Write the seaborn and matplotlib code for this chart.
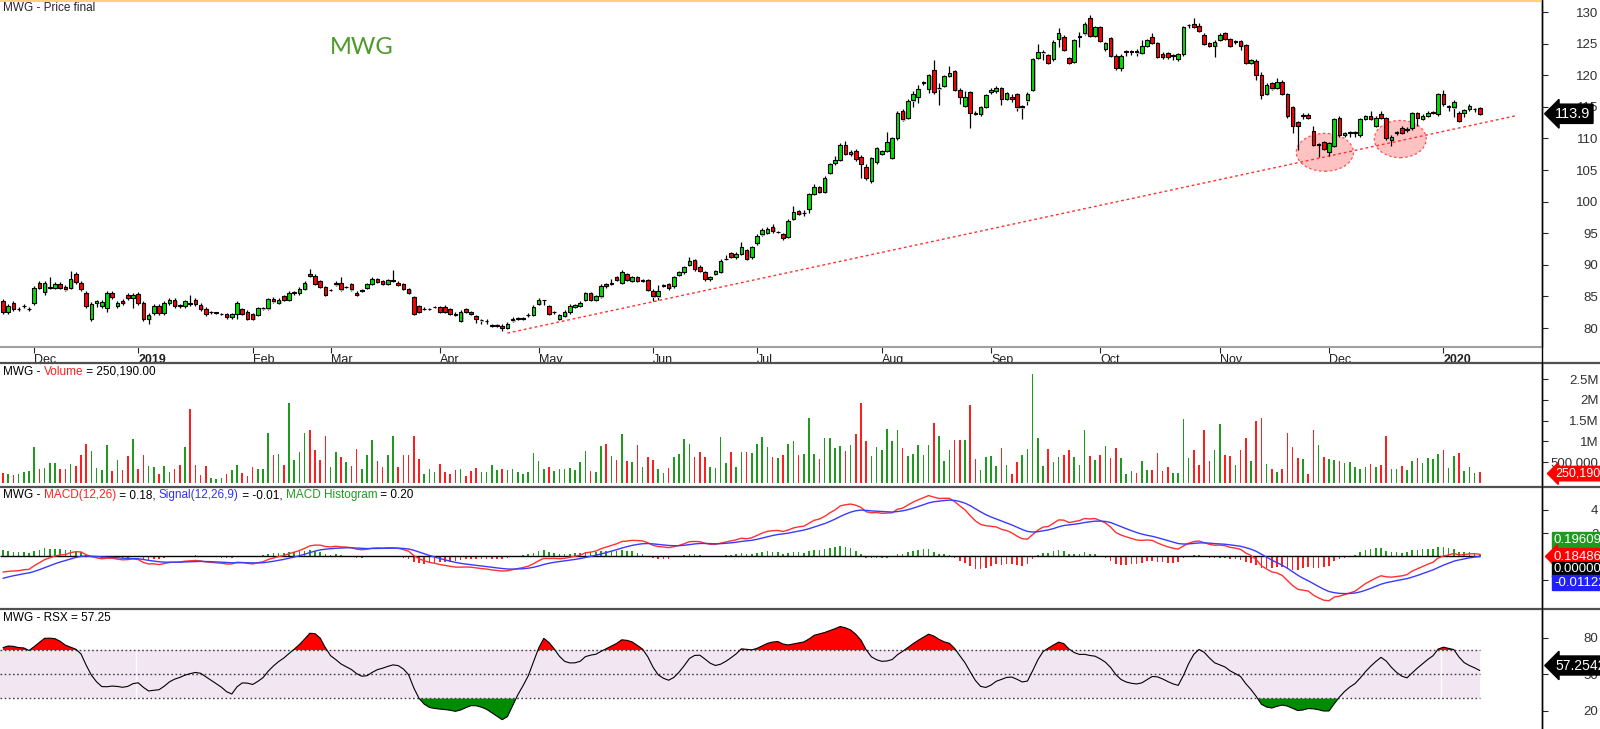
import numpy as np
import pandas as pd
import seaborn as sns
import matplotlib.pyplot as plt
import matplotlib.transforms as mtransforms
from matplotlib.lines import Line2D
from matplotlib.patches import Ellipse

W, H = 1600, 729

### data (one value per trading day) ###

opens = [
    84.3, 82.6, 84.0, 83.0, 83.5, 83.0, 84.0, 87.1, 85.7, 86.4,
    86.4, 87.0, 86.5, 86.4, 88.5, 87.2, 85.6, 81.4, 83.9, 83.5,
    83.2, 85.6, 83.5, 84.3, 85.3, 84.8, 85.4, 84.0, 81.4, 82.4,
    83.5, 82.4, 84.0, 84.4, 83.6, 83.5, 84.0, 84.4, 83.6, 83.0,
    82.5, 82.4, 82.2, 82.2, 81.7, 82.2, 83.0, 82.6, 82.2, 82.1,
    83.1, 83.1, 84.6, 84.0, 85.0, 84.5, 85.6, 85.5, 86.2, 88.5,
    88.3, 87.4, 86.5, 86.0, 86.9, 87.2, 86.5, 87.0, 85.6, 85.9,
    86.4, 87.0, 87.7, 87.4, 87.0, 87.5, 87.2, 87.0, 86.2, 84.9,
    83.5, 83.0, 83.0, 83.3, 83.3, 83.4, 83.0, 82.3, 81.1, 83.0,
    82.5, 81.9, 81.2, 81.1, 80.4, 80.4, 80.4, 80.0, 81.2, 81.5,
    81.5, 82.0, 82.0, 83.8, 84.4, 83.5, 82.5, 81.4, 81.9, 82.6,
    83.4, 83.5, 84.4, 85.5, 84.4, 85.0, 86.9, 87.0, 88.0, 87.1,
    88.5, 87.5, 88.1, 87.5, 87.6, 85.9, 85.0, 86.7, 86.9, 86.6,
    88.4, 88.8, 90.0, 90.8, 89.7, 88.9, 87.7, 88.6, 88.9, 90.9,
    91.8, 91.3, 91.7, 92.3, 91.2, 93.4, 94.8, 95.0, 96.0, 95.2,
    94.9, 94.4, 97.3, 98.5, 98.2, 98.8, 101.2, 102.3, 101.6, 104.5,
    106.1, 106.6, 109.0, 107.5, 108.0, 107.1, 105.4, 103.2, 106.3, 107.5,
    108.0, 106.9, 110.0, 114.4, 113.3, 116.0, 116.5, 118.8, 117.8, 120.8,
    117.9, 118.3, 119.9, 120.6, 117.7, 115.2, 117.3, 114.1, 113.8, 115.0,
    117.4, 117.5, 118.0, 116.3, 116.6, 117.0, 114.9, 116.0, 117.7, 122.7,
    123.6, 123.2, 122.5, 125.8, 126.1, 122.7, 122.1, 126.1, 126.6, 129.0,
    126.2, 127.6, 124.1, 125.9, 123.1, 121.1, 123.7, 123.7, 123.9, 123.5,
    124.7, 126.1, 125.1, 123.4, 123.5, 123.1, 122.5, 123.3, 127.9, 128.1,
    127.8, 126.4, 125.1, 124.7, 125.6, 126.7, 125.7, 125.3, 125.4, 124.8,
    122.0, 122.3, 120.0, 117.0, 118.7, 118.0, 119.0, 117.0, 115.0, 112.6,
    113.6, 113.7, 111.2, 109.0, 109.4, 107.9, 108.8, 113.3, 110.5, 110.9,
    110.9, 110.5, 113.1, 113.6, 112.0, 113.8, 113.2, 109.8, 110.9, 111.7,
    111.4, 111.6, 114.0, 113.1, 113.6, 114.1, 113.8, 117.0, 115.0, 114.9,
    114.1, 114.0, 114.6, 114.6, 114.8,
]

closes = [
    82.6, 83.5, 83.0, 83.0, 83.5, 83.0, 86.4, 86.4, 87.2, 86.4,
    87.0, 86.4, 86.1, 87.7, 87.3, 86.2, 83.5, 83.8, 84.2, 84.1,
    85.6, 84.9, 84.0, 84.0, 84.8, 85.3, 84.0, 81.4, 82.1, 83.5,
    82.4, 84.0, 84.4, 83.5, 83.5, 84.2, 83.8, 83.8, 83.0, 82.2,
    82.5, 82.4, 82.2, 81.7, 82.2, 84.0, 82.2, 81.4, 81.4, 83.1,
    83.1, 84.6, 84.2, 84.5, 84.5, 85.6, 85.6, 86.2, 87.2, 88.2,
    87.0, 86.5, 85.2, 86.0, 87.2, 86.1, 86.5, 86.1, 85.2, 85.9,
    87.0, 87.8, 87.3, 87.0, 87.6, 87.5, 86.8, 86.2, 85.6, 82.3,
    82.6, 83.0, 83.0, 83.3, 82.6, 82.6, 82.3, 82.1, 82.6, 82.6,
    82.2, 81.4, 81.2, 81.1, 80.4, 80.4, 80.0, 80.7, 81.5, 81.5,
    81.5, 82.0, 83.4, 84.4, 84.4, 82.3, 82.5, 82.0, 82.6, 83.5,
    83.6, 84.0, 85.5, 84.4, 85.0, 86.7, 86.6, 87.0, 87.6, 88.8,
    87.6, 88.1, 87.5, 87.5, 86.0, 85.0, 85.9, 86.7, 86.3, 88.1,
    88.8, 89.6, 90.6, 89.3, 89.0, 87.7, 88.1, 89.0, 90.6, 90.9,
    91.3, 91.7, 92.8, 91.0, 92.8, 94.6, 95.5, 95.6, 95.3, 95.2,
    94.2, 97.0, 98.3, 98.1, 98.2, 101.2, 102.3, 101.6, 103.8, 105.9,
    106.6, 109.0, 107.5, 107.9, 106.7, 106.0, 103.7, 106.9, 108.5, 108.0,
    109.5, 110.0, 114.1, 113.0, 115.9, 117.0, 117.8, 118.8, 120.0, 117.3,
    117.9, 119.9, 120.4, 117.7, 116.5, 116.5, 114.1, 113.9, 115.0, 116.9,
    117.7, 118.0, 116.3, 117.2, 116.2, 114.9, 115.1, 117.0, 122.5, 123.6,
    123.6, 122.0, 125.3, 126.6, 124.0, 122.0, 125.6, 126.1, 128.1, 126.2,
    127.6, 125.4, 125.1, 123.1, 121.1, 123.1, 123.7, 123.7, 123.6, 124.7,
    125.6, 125.1, 122.9, 122.9, 122.9, 123.1, 123.3, 127.6, 127.9, 127.7,
    127.0, 125.0, 124.7, 125.3, 126.4, 125.7, 124.6, 125.3, 124.7, 121.9,
    122.4, 120.0, 116.9, 118.5, 117.9, 119.0, 117.1, 113.5, 112.0, 112.0,
    113.6, 113.2, 109.0, 109.0, 108.4, 109.2, 113.0, 110.5, 110.8, 110.9,
    110.9, 113.1, 113.5, 113.1, 113.3, 113.3, 110.0, 110.2, 110.9, 110.9,
    111.4, 114.0, 113.2, 113.6, 114.1, 114.1, 117.0, 115.4, 115.0, 115.8,
    112.8, 114.5, 115.1, 114.6, 113.9,
]

highs = [
    84.6, 83.8, 84.3, 83.4, 83.8, 83.3, 86.7, 87.4, 87.5, 88.0,
    87.3, 87.3, 86.8, 89.0, 88.8, 87.5, 85.9, 84.1, 84.5, 84.4,
    85.9, 85.9, 84.3, 84.6, 85.6, 85.6, 85.7, 84.3, 82.4, 83.8,
    83.8, 84.3, 84.7, 84.7, 83.8, 84.5, 85.2, 84.7, 83.9, 83.3,
    82.7, 82.6, 82.4, 82.4, 82.4, 84.3, 83.2, 82.8, 82.4, 83.3,
    83.4, 84.8, 84.9, 84.7, 85.2, 85.8, 85.9, 86.5, 87.5, 89.4,
    88.5, 87.6, 86.7, 86.2, 87.4, 88.1, 86.7, 87.2, 85.8, 86.1,
    87.2, 88.0, 87.9, 87.6, 87.8, 89.2, 87.4, 87.2, 86.4, 85.1,
    83.7, 83.3, 83.2, 83.5, 83.5, 83.6, 83.2, 82.5, 82.8, 83.2,
    82.7, 82.1, 81.5, 81.5, 80.6, 80.6, 80.6, 80.9, 81.7, 81.8,
    81.7, 82.4, 83.6, 84.7, 84.5, 83.7, 82.7, 82.2, 82.9, 83.8,
    83.8, 84.3, 85.7, 85.7, 85.2, 86.9, 87.1, 87.7, 88.2, 89.2,
    88.7, 88.3, 88.3, 87.7, 87.8, 86.1, 86.8, 86.9, 87.1, 88.3,
    89.0, 89.8, 91.2, 91.0, 89.9, 89.1, 88.3, 89.2, 91.0, 91.6,
    92.0, 92.0, 93.6, 92.5, 93.0, 94.8, 95.8, 96.0, 96.4, 95.4,
    95.1, 97.2, 99.3, 98.7, 98.6, 101.4, 102.8, 102.5, 104.0, 106.1,
    107.2, 109.2, 109.6, 108.2, 108.3, 107.3, 106.0, 107.1, 108.7, 108.2,
    111.0, 110.2, 114.3, 114.6, 116.3, 117.5, 118.5, 119.1, 120.2, 122.4,
    118.8, 120.1, 121.4, 120.8, 117.9, 117.5, 117.5, 114.3, 115.2, 117.1,
    117.9, 118.3, 118.2, 117.4, 117.0, 117.2, 115.3, 117.3, 122.7, 125.0,
    124.0, 123.4, 125.6, 127.5, 126.3, 122.9, 125.8, 126.8, 128.4, 129.6,
    127.8, 127.8, 125.3, 126.1, 123.3, 123.3, 124.0, 124.0, 124.1, 125.5,
    125.8, 126.6, 125.3, 123.6, 123.7, 123.3, 123.5, 127.8, 128.1, 129.0,
    128.3, 126.6, 125.3, 125.5, 126.6, 126.9, 125.9, 125.6, 125.6, 125.0,
    122.6, 122.5, 120.5, 118.7, 118.9, 119.6, 119.2, 117.2, 115.2, 112.8,
    114.0, 114.0, 112.0, 109.2, 109.6, 109.4, 113.2, 113.5, 111.0, 111.2,
    111.2, 113.3, 113.7, 114.4, 113.5, 114.3, 113.4, 110.6, 111.2, 111.9,
    111.8, 114.2, 114.2, 113.8, 114.3, 114.4, 117.2, 117.7, 115.3, 116.0,
    114.3, 114.7, 115.5, 114.8, 115.0,
]

lows = [
    82.3, 82.3, 82.7, 82.7, 83.2, 82.7, 83.6, 86.1, 85.3, 86.1,
    86.1, 86.1, 85.8, 86.1, 87.0, 85.9, 83.2, 81.1, 83.3, 83.2,
    82.6, 84.6, 83.2, 83.7, 84.5, 83.2, 83.7, 81.1, 80.6, 82.1,
    82.1, 82.1, 83.7, 83.2, 83.2, 83.2, 83.5, 83.5, 82.7, 81.9,
    82.3, 82.2, 82.0, 81.5, 81.5, 81.5, 82.0, 81.2, 81.2, 81.9,
    82.8, 82.9, 84.0, 83.8, 84.3, 84.3, 85.3, 85.2, 86.0, 88.0,
    86.8, 86.3, 85.0, 85.8, 86.7, 85.9, 86.3, 85.9, 85.0, 85.7,
    86.2, 86.8, 87.1, 86.8, 86.8, 87.3, 86.6, 86.0, 85.4, 82.1,
    82.4, 82.8, 82.8, 83.1, 82.4, 82.4, 82.1, 81.9, 80.9, 82.4,
    82.0, 80.8, 80.6, 80.7, 80.2, 80.2, 79.5, 79.8, 81.0, 81.3,
    81.3, 81.8, 81.9, 83.6, 83.7, 82.1, 82.3, 81.2, 81.7, 82.3,
    83.1, 83.3, 84.2, 84.2, 84.2, 84.8, 86.4, 86.8, 87.4, 86.9,
    87.4, 87.3, 87.3, 87.3, 85.8, 84.3, 84.5, 86.5, 86.0, 86.4,
    88.2, 88.6, 89.8, 89.1, 88.8, 87.5, 87.5, 88.4, 88.7, 90.7,
    91.1, 90.9, 91.5, 90.8, 91.0, 93.2, 94.6, 94.8, 95.1, 95.0,
    94.0, 94.2, 97.1, 97.9, 97.7, 98.2, 101.0, 101.4, 101.4, 104.3,
    105.8, 106.4, 107.3, 107.2, 106.5, 103.7, 103.5, 103.0, 106.0, 107.3,
    107.8, 106.7, 109.8, 112.8, 113.1, 114.9, 115.6, 118.5, 117.2, 117.0,
    115.3, 118.1, 119.7, 117.5, 115.4, 115.0, 111.6, 113.7, 113.6, 114.8,
    117.0, 117.2, 115.3, 116.1, 115.8, 114.4, 113.0, 115.3, 117.5, 122.5,
    122.4, 121.8, 122.3, 124.5, 123.8, 121.8, 121.9, 124.5, 126.4, 126.0,
    126.0, 125.2, 123.9, 122.9, 120.9, 120.6, 123.0, 123.2, 123.1, 123.3,
    124.5, 124.9, 122.7, 122.5, 122.5, 122.4, 122.3, 123.1, 127.5, 127.5,
    126.8, 124.8, 124.5, 122.9, 125.4, 125.5, 124.4, 125.0, 124.0, 121.7,
    121.8, 119.2, 116.3, 116.8, 117.6, 117.8, 116.8, 113.3, 110.8, 108.2,
    113.0, 113.0, 108.8, 107.0, 108.2, 107.2, 108.6, 110.3, 110.2, 110.3,
    110.3, 110.3, 112.9, 112.9, 111.8, 113.1, 109.8, 108.8, 110.6, 110.7,
    111.0, 111.4, 112.0, 112.9, 113.4, 113.9, 113.6, 115.2, 114.4, 113.4,
    112.6, 113.4, 114.4, 114.2, 113.7,
]

# volume in millions of shares
volume_m = [
    0.24, 0.22, 0.18, 0.20, 0.26, 0.28, 0.87, 0.32, 0.36, 0.47,
    0.47, 0.34, 0.32, 0.45, 0.40, 0.66, 0.93, 0.77, 0.35, 0.30,
    0.90, 0.29, 0.55, 0.30, 0.65, 1.05, 0.32, 0.68, 0.40, 0.38,
    0.20, 0.40, 0.26, 0.32, 0.42, 0.87, 1.78, 0.42, 0.18, 0.40,
    0.12, 0.10, 0.12, 0.20, 0.30, 0.42, 0.24, 0.15, 0.38, 0.34,
    0.32, 1.20, 0.66, 0.70, 0.42, 1.92, 0.56, 0.75, 1.19, 1.27,
    0.79, 0.55, 1.13, 0.38, 0.75, 0.63, 0.51, 0.40, 0.82, 0.32,
    0.66, 1.04, 0.53, 0.38, 0.68, 1.13, 0.38, 0.66, 0.66, 1.13,
    0.58, 0.20, 0.32, 0.25, 0.44, 0.25, 0.20, 0.30, 0.32, 0.15,
    0.29, 0.36, 0.26, 0.25, 0.42, 0.30, 0.34, 0.30, 0.32, 0.25,
    0.22, 0.25, 0.72, 0.53, 0.34, 0.38, 0.29, 0.32, 0.33, 0.35,
    0.30, 0.51, 0.76, 0.29, 0.26, 0.88, 0.93, 0.64, 0.56, 1.17,
    0.53, 0.50, 0.90, 0.37, 0.62, 0.55, 0.33, 0.24, 0.36, 0.63,
    0.69, 1.05, 0.93, 0.63, 0.75, 0.62, 0.38, 0.36, 1.10, 0.48,
    0.75, 0.38, 0.74, 0.74, 0.73, 0.93, 1.10, 0.86, 0.63, 0.59,
    0.68, 0.94, 1.00, 0.67, 0.69, 1.56, 0.69, 0.57, 1.09, 1.08,
    0.84, 0.88, 0.76, 0.90, 1.18, 1.93, 1.01, 0.64, 0.87, 0.79,
    1.30, 1.00, 1.28, 0.84, 0.65, 0.69, 0.90, 0.68, 0.90, 1.45,
    1.12, 0.52, 0.80, 1.03, 1.03, 1.03, 1.89, 0.57, 0.30, 0.61,
    0.65, 0.41, 0.85, 0.42, 0.22, 0.51, 0.67, 0.82, 2.63, 1.07,
    0.40, 0.81, 0.51, 0.61, 0.67, 0.79, 0.61, 0.42, 1.28, 0.64,
    0.55, 0.67, 0.88, 0.59, 0.85, 0.59, 0.22, 0.28, 0.24, 0.52,
    0.30, 0.30, 0.73, 0.29, 0.38, 0.24, 0.24, 1.55, 0.59, 0.78,
    0.42, 1.28, 0.53, 0.79, 1.42, 0.67, 0.65, 0.42, 0.78, 1.07,
    0.52, 1.48, 1.56, 0.44, 0.32, 0.26, 0.32, 1.21, 0.87, 0.59,
    0.57, 0.22, 1.28, 0.90, 0.61, 0.57, 0.56, 0.52, 0.47, 0.51,
    0.38, 0.34, 0.38, 0.44, 0.38, 0.42, 1.13, 0.34, 0.34, 0.40,
    0.30, 0.53, 0.60, 0.47, 0.60, 0.57, 0.69, 0.79, 0.36, 0.64,
    0.72, 0.29, 0.38, 0.24, 0.25019,
]

month_labels = ["Dec", "2019", "Feb", "Mar", "Apr", "May", "Jun", "Jul",
                "Aug", "Sep", "Oct", "Nov", "Dec", "2020"]
month_start = [6, 26, 48, 63, 84, 103, 125, 145, 169, 190, 211, 234, 255, 277]
year_start = [26, 277]

# hand-drawn annotations on the price pane
trend_idx = [97, 291]
trend_price = [79.2, 113.6]
circle_idx = [254.2, 268.7]
circle_price = [107.8, 109.9]
circle_w = [11.0, 10.0]
circle_h = [6.0, 5.9]

# indicator start values (history before the first bar is not on the chart)
macd_seed = [84.2, 85.5, -2.0]   # ema12, ema26, signal
rsx_seed = [22.0, 50.0]          # mean move, mean abs move (x100)
rsx_len = 12

#################

def ema(vals, span, seed):
    a = 2.0 / (span + 1)
    out, prev = [], seed
    for v in vals:
        prev = prev + a * (v - prev)
        out.append(prev)
    return np.array(out)


def rsx(vals, length, mom0, abs0):
    f18 = 3.0 / (length + 2.0)
    f20 = 1.0 - f18
    f28 = f30 = f38 = f40 = f48 = f50 = mom0
    f58 = f60 = f68 = f70 = f78 = f80 = abs0
    f10 = 100.0 * vals[0]
    out = []
    for v in vals:
        f8 = 100.0 * v
        v8 = f8 - f10
        f10 = f8
        f28 = f20 * f28 + f18 * v8
        f30 = f18 * f28 + f20 * f30
        vc = 1.5 * f28 - 0.5 * f30
        f38 = f20 * f38 + f18 * vc
        f40 = f18 * f38 + f20 * f40
        v10 = 1.5 * f38 - 0.5 * f40
        f48 = f20 * f48 + f18 * v10
        f50 = f18 * f48 + f20 * f50
        v14 = 1.5 * f48 - 0.5 * f50
        f58 = f20 * f58 + f18 * abs(v8)
        f60 = f18 * f58 + f20 * f60
        v18 = 1.5 * f58 - 0.5 * f60
        f68 = f20 * f68 + f18 * v18
        f70 = f18 * f68 + f20 * f70
        v1c = 1.5 * f68 - 0.5 * f70
        f78 = f20 * f78 + f18 * v1c
        f80 = f18 * f78 + f20 * f80
        v20 = 1.5 * f78 - 0.5 * f80
        r = (v14 / v20 + 1.0) * 50.0 if v20 > 0 else 50.0
        out.append(min(max(r, 0.0), 100.0))
    return np.array(out)


def put_parts(fig, x_px, y_px, parts, size=8.5):
    # multi-coloured title, pieces laid end to end
    r = fig.canvas.get_renderer()
    probe = fig.text(0, 0, "|", fontsize=size)
    bar_w = probe.get_window_extent(r).width
    probe.remove()
    done = ""
    for s, col in parts:
        t = fig.text(0, 0, done + "|", fontsize=size)
        off = t.get_window_extent(r).width - bar_w
        t.remove()
        fig.text((x_px + off) / W, 1 - y_px / H, s, color=col, fontsize=size,
                 ha="left", va="center")
        done += s


sns.set_style("white")
plt.rcParams['font.family'] = ['Liberation Sans', 'DejaVu Sans']

df = pd.DataFrame({"open": opens, "high": highs, "low": lows,
                   "close": closes, "vol": volume_m})
df["idx"] = np.arange(len(df))
n = len(df)
up = (df["close"] >= df["open"]).values

e12 = ema(closes, 12, macd_seed[0])
e26 = ema(closes, 26, macd_seed[1])
df["macd"] = e12 - e26
df["signal"] = ema(df["macd"].values, 9, macd_seed[2])
df["hist"] = df["macd"] - df["signal"]
df["rsx"] = rsx(closes, rsx_len, rsx_seed[0], rsx_seed[1])

fig = plt.figure(figsize=(16, 7.29), dpi=100)
fig.patch.set_facecolor("white")

x_right = 1542


def pane(top, bottom):
    a = fig.add_axes([0, 1 - bottom / H, x_right / W, (bottom - top) / H])
    a.set_xlim(-0.58, 295.96)
    for s in ["top", "left", "bottom"]:
        a.spines[s].set_visible(False)
    a.spines["right"].set_color("black")
    a.spines["right"].set_linewidth(1)
    a.yaxis.tick_right()
    a.tick_params(axis="y", direction="out", length=4, width=0.8,
                  pad=(1597 - x_right - 4) * 0.72, labelsize=9.5,
                  labelcolor="#303030")
    return a


ax_p = pane(0, 347)
ax_v = pane(364, 486)
ax_m = pane(488, 608)
ax_r = pane(610, 729)

# ---- price pane ----
ax_p.set_ylim(77.0, 131.9)
ax_p.spines["bottom"].set_visible(True)
ax_p.spines["bottom"].set_color("#A0A0A0")
ax_p.spines["bottom"].set_linewidth(1.5)

for i in range(2):
    ax_p.add_patch(Ellipse((circle_idx[i], circle_price[i]), circle_w[i], circle_h[i],
                           facecolor="#FFC2C2", edgecolor="#FF5050",
                           linestyle=(0, (2, 2)), linewidth=0.9, zorder=1))
ax_p.plot(trend_idx, trend_price, color="#FF3030", linestyle=(0, (2, 2)),
          linewidth=1, zorder=2)

body_lo = np.minimum(df["open"], df["close"]).values
body_h = np.maximum(np.abs(df["close"] - df["open"]).values, 0.06)
ax_p.vlines(df["idx"], np.minimum(df["low"], body_lo),
            np.maximum(df["high"], body_lo + body_h), color="black", lw=0.9, zorder=3)
ax_p.bar(df["idx"] + 0.2, body_h, bottom=body_lo - 0.17, width=0.72,
         color="#B8B8B8", linewidth=0, zorder=3.5)
ax_p.bar(df["idx"], body_h, bottom=body_lo, width=0.72,
         color=np.where(up, "#00E000", "#FF0000"), edgecolor="black",
         linewidth=0.8, zorder=4)

ax_p.set_yticks(range(80, 131, 5))
ax_p.set_xticks(month_start)
ax_p.set_xticklabels(month_labels)
ax_p.tick_params(axis="x", direction="out", length=4, width=0.8, pad=1,
                 labelsize=9, labelcolor="#202020", bottom=True)
for lbl in ax_p.get_xticklabels():
    lbl.set_horizontalalignment("left")
    if lbl.get_text() in ("2019", "2020"):
        lbl.set_fontweight("bold")

# ---- volume pane ----
ax_v.set_ylim(-0.08, 2.87)
ax_v.bar(df["idx"], df["vol"], width=0.32,
         color=np.where(up, "#1E9A1E", "#FF1E1E"), linewidth=0)
ax_v.set_yticks([0.5, 1, 1.5, 2, 2.5])
ax_v.set_yticklabels(["500,000", "1M", "1.5M", "2M", "2.5M"])
ax_v.set_xticks([])

# ---- MACD pane ----
ax_m.set_ylim(-4.40, 5.85)
ax_m.bar(df["idx"], df["hist"], width=0.32,
         color=np.where(df["hist"] >= 0, "#1E9A1E", "#FF1E1E"), linewidth=0)
ax_m.hlines(0, -0.58, n - 1, color="black", lw=1)
sns.lineplot(data=df, x="idx", y="macd", ax=ax_m, color="#FF3030", lw=1)
sns.lineplot(data=df, x="idx", y="signal", ax=ax_m, color="#3A3AFF", lw=1)
ax_m.set_yticks([-2, 2, 4])
ax_m.set_xticks([])

# ---- RSX pane ----
ax_r.set_ylim(4.8, 103.1)
ax_r.fill_between([-0.58, n - 1], 30, 70, color="#F2E6F2", lw=0)
ax_r.vlines(np.array(year_start) - 0.4, 30, 70, color="white", lw=1)
ax_r.hlines([30, 50, 70], -0.58, n - 1, colors="#404040",
            linestyles=(0, (1.2, 1.8)), lw=1)
rv = df["rsx"].values
ax_r.fill_between(df["idx"], rv, 70, where=rv > 70, interpolate=True,
                  color="#FF0000", lw=0)
ax_r.fill_between(df["idx"], rv, 30, where=rv < 30, interpolate=True,
                  color="#008C00", lw=0)
sns.lineplot(data=df, x="idx", y="rsx", ax=ax_r, color="black", lw=0.8)
ax_r.set_yticks([20, 50, 80])
ax_r.set_xticks([])

for a in [ax_v, ax_m, ax_r]:
    a.set_xlabel("")
    a.set_ylabel("")
for a in [ax_p, ax_v, ax_m, ax_r]:
    for lbl in a.get_yticklabels():
        lbl.set_horizontalalignment("right")

# ---- frame lines ----
fig.add_artist(Line2D([0, x_right / W], [1 - 0.8 / H] * 2, color="#FFD27A", lw=1.5))
for y in [363, 487, 609]:
    fig.add_artist(Line2D([0, 1], [1 - y / H] * 2, color="#505050", lw=1.6))
fig.add_artist(Line2D([x_right / W] * 2, [0, 1], color="black", lw=1))

# ---- titles ----
fig.text(3 / W, 1 - 8 / H, "MWG - Price final", fontsize=8.5, ha="left", va="center")
fig.text(330 / W, 1 - 48 / H, "MWG", fontsize=17, color="#4E9A2A",
         family=["Lato", "DejaVu Sans"], ha="left", va="center")
put_parts(fig, 3, 372, [("MWG - ", "black"), ("Volume", "#FF2020"),
                        (" = 250,190.00", "black")])
put_parts(fig, 3, 495, [("MWG - ", "black"), ("MACD(12,26)", "#FF2020"),
                        (" = 0.18, ", "black"), ("Signal(12,26,9)", "#3030FF"),
                        (" = -0.01, ", "black"), ("MACD Histogram", "#1E9A1E"),
                        (" = 0.20", "black")])
put_parts(fig, 3, 618, [("MWG - RSX = 57.25", "black")])

# ---- last-value tags on the right axis ----
def tag(ax, y, s, fc, arrow=True, size=10.5, pad=0.18):
    tr = mtransforms.blended_transform_factory(fig.transFigure, ax.transData)
    style = ("larrow,pad=%g" if arrow else "square,pad=%g") % pad
    ax.text(1555 / W, y, s, transform=tr, color="white", fontsize=size,
            ha="left", va="center", clip_on=False,
            bbox=dict(boxstyle=style, fc=fc, ec=fc))


tag(ax_p, closes[-1], "113.9", "black")
tag(ax_v, volume_m[-1] - 0.03, "250,190", "#FF0000", size=9, pad=0.1)
tag(ax_r, 57.25, "57.2542", "black", size=10)


def fig_tag(y_px, s, fc, arrow=False):
    style = "larrow,pad=0.15" if arrow else "square,pad=0.15"
    fig.text(1554 / W, 1 - y_px / H, s, color="white", fontsize=9.5,
             ha="left", va="center",
             bbox=dict(boxstyle=style, fc=fc, ec=fc))


fig_tag(540, "0.196094", "#1E9A1E")
fig_tag(556.5, "0.184860", "#FF0000", arrow=True)
fig_tag(569.5, "0.000000", "black")
fig_tag(582.5, "-0.011226", "#2020FF")

fig.savefig("out.png", dpi=100)
